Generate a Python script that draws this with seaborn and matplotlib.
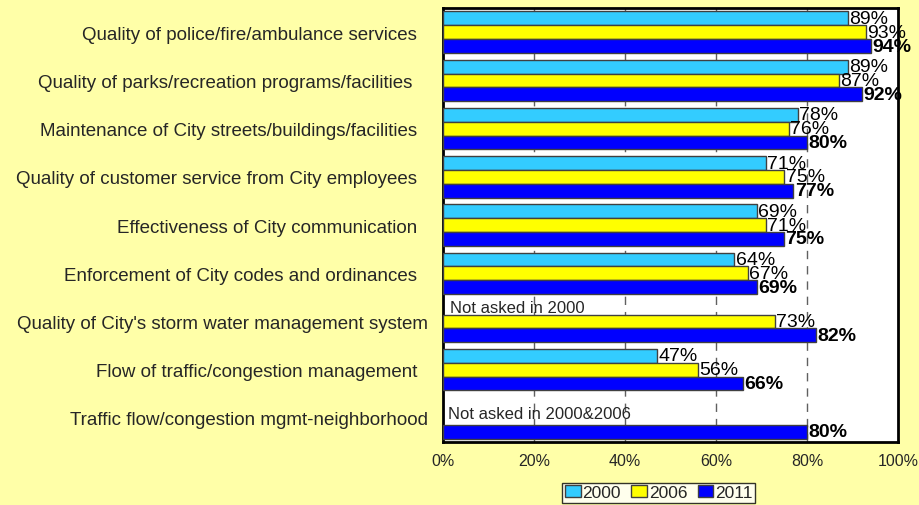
import numpy as np
import pandas as pd
import matplotlib.pyplot as plt
import seaborn as sns

# Survey items (top to bottom) and satisfaction by year
items = [
    "Quality of police/fire/ambulance services",
    "Quality of parks/recreation programs/facilities",
    "Maintenance of City streets/buildings/facilities",
    "Quality of customer service from City employees",
    "Effectiveness of City communication",
    "Enforcement of City codes and ordinances",
    "Quality of City's storm water management system",
    "Flow of traffic/congestion management",
    "Traffic flow/congestion mgmt-neighborhood",
]
tick_labels = [
    "Quality of police/fire/ambulance services  ",
    "Quality of parks/recreation programs/facilities   ",
    "Maintenance of City streets/buildings/facilities  ",
    "Quality of customer service from City employees  ",
    "Effectiveness of City communication  ",
    "Enforcement of City codes and ordinances  ",
    "Quality of City's storm water management system",
    "Flow of traffic/congestion management  ",
    "Traffic flow/congestion mgmt-neighborhood",
]
years = ["2000", "2006", "2011"]
pct_2000 = [89, 89, 78, 71, 69, 64, np.nan, 47, np.nan]
pct_2006 = [93, 87, 76, 75, 71, 67, 73, 56, np.nan]
pct_2011 = [94, 92, 80, 77, 75, 69, 82, 66, 80]
xticks = [0, 20, 40, 60, 80, 100]

colors = ["#33CCFF", "#FFFF00", "#0000FF"]
bg = "#FFFFA8"

df = pd.DataFrame({"item": items, "2000": pct_2000, "2006": pct_2006, "2011": pct_2011})
long = df.melt(id_vars="item", var_name="year", value_name="pct")

sns.set_style("white")
plt.rcParams['font.family'] = ['Liberation Sans', 'DejaVu Sans']

fig = plt.figure(figsize=(9.2, 5.06), dpi=100, facecolor=bg)
ax = fig.add_axes([0.4815, 0.1245, 0.4945, 0.8575])

width = 0.86
sns.barplot(data=long, y="item", x="pct", hue="year", hue_order=years,
            order=items, orient="h", palette=colors, width=width,
            edgecolor="#404040", linewidth=1.0, saturation=1, ax=ax, zorder=3)

ax.set_xlim(0, 100)
ax.set_ylim(len(items) - 0.5, -0.5)
ax.set_xticks(xticks)
ax.set_xticklabels([f"{t}%" for t in xticks], fontsize=11.5)
ax.set_yticks(range(len(items)))
ax.set_yticklabels(tick_labels, fontsize=13.5)
ax.tick_params(axis="y", length=0, pad=11)
ax.tick_params(axis="x", length=0, pad=8)
ax.set_xlabel("")
ax.set_ylabel("")

for x in xticks[1:-1]:
    ax.axvline(x, color="#606060", linestyle=(0, (6, 5)), linewidth=1.0, zorder=1)

for sp in ax.spines.values():
    sp.set_color("black")
    sp.set_linewidth(2)

# value labels
for i, cont in enumerate(ax.containers):
    weight = "bold" if years[i] == "2011" else "normal"
    ax.bar_label(cont, fmt="%d%%", padding=1, fontsize=14, fontweight=weight,
                 color="black", zorder=4)

# notes where question was not asked
step = width / len(years)
ax.text(1.5, 6 - step, "Not asked in 2000", fontsize=12, va="center", ha="left", zorder=4)
ax.text(1.0, 8 - 0.1, "Not asked in 2000&2006", fontsize=12, va="center", ha="left", zorder=4)

leg = ax.legend(loc="upper center", bbox_to_anchor=(0.716, 0.044),
                bbox_transform=fig.transFigure, ncol=3, fontsize=12.5,
                frameon=True, fancybox=False, edgecolor="black",
                handlelength=0.9, handleheight=0.7, handletextpad=0.1,
                columnspacing=0.6, borderpad=0.15, borderaxespad=0)
leg.get_frame().set_linewidth(1.0)

fig.savefig("out.png", dpi=100, facecolor=bg)
